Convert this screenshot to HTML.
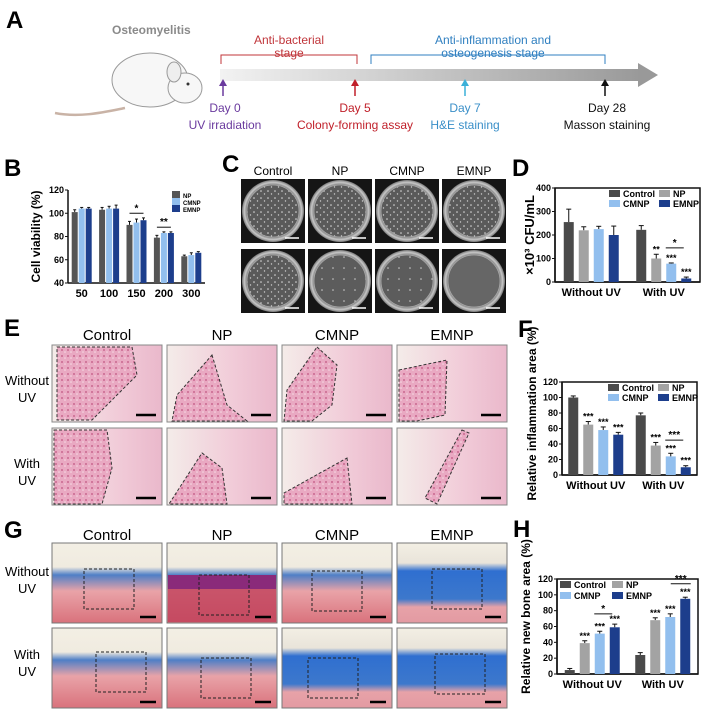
<!DOCTYPE html>
<html><head><meta charset="utf-8">
<style>
html,body{margin:0;padding:0;background:#fff;}
svg{display:block;font-family:"Liberation Sans",Arial,sans-serif;}
.pl{font-weight:bold;font-size:24px;}
.tk{font-size:9px;font-weight:bold;}
.ax{font-size:11px;font-weight:bold;}
</style></head>
<body>
<svg id="fig" width="705" height="716" viewBox="0 0 705 716" xmlns="http://www.w3.org/2000/svg">
<defs>
<linearGradient id="tl" x1="0" x2="1"><stop offset="0" stop-color="#f2f2f2"/><stop offset="1" stop-color="#9a9a9a"/></linearGradient>
<radialGradient id="dish" cx="0.5" cy="0.5" r="0.5"><stop offset="0.8" stop-color="#555"/><stop offset="0.92" stop-color="#c8c8c8"/><stop offset="1" stop-color="#777"/></radialGradient>
<pattern id="col" width="7" height="7" patternUnits="userSpaceOnUse"><rect width="7" height="7" fill="#5a5a5a"/><circle cx="2" cy="2" r="0.8" fill="#ddd"/><circle cx="5.5" cy="5" r="0.7" fill="#ccc"/></pattern>
<pattern id="col2" width="11" height="11" patternUnits="userSpaceOnUse"><rect width="11" height="11" fill="#5c5c5c"/><circle cx="3" cy="4" r="0.8" fill="#ccc"/></pattern>
<pattern id="he" width="6" height="6" patternUnits="userSpaceOnUse"><rect width="6" height="6" fill="#e9a9c2"/><circle cx="2" cy="2" r="1" fill="#c9688f"/><circle cx="5" cy="4" r="0.8" fill="#f6dbe5"/></pattern>
<linearGradient id="pinkbg" x1="0" x2="1"><stop offset="0" stop-color="#f4ece9"/><stop offset="0.6" stop-color="#f1cbd8"/><stop offset="1" stop-color="#eab8cb"/></linearGradient>
<linearGradient id="mas" x1="0" y1="0" x2="0" y2="1"><stop offset="0" stop-color="#f3efe4"/><stop offset="0.3" stop-color="#f0ebe0"/><stop offset="0.4" stop-color="#4f7fc6"/><stop offset="0.6" stop-color="#e9a3a8"/><stop offset="1" stop-color="#d9727c"/></linearGradient>
<linearGradient id="mas2" x1="0" y1="0" x2="0" y2="1"><stop offset="0" stop-color="#f3efe4"/><stop offset="0.25" stop-color="#e9e4da"/><stop offset="0.35" stop-color="#2f6fd0"/><stop offset="0.7" stop-color="#3d78cc"/><stop offset="0.8" stop-color="#e7a2a8"/><stop offset="1" stop-color="#e39aa2"/></linearGradient>
</defs>

<g>
<text class="pl" x="6" y="28">A</text>
<text x="112" y="34" font-size="12" font-weight="bold" fill="#8a8a8a">Osteomyelitis</text>
<g>
<path d="M125,108 C105,112 80,118 55,113" stroke="#c9b3a6" stroke-width="2.5" fill="none"/>
<ellipse cx="150" cy="80" rx="38" ry="27" fill="#f7f7f7" stroke="#9a9a9a"/>
<ellipse cx="185" cy="88" rx="17" ry="15" fill="#f7f7f7" stroke="#9a9a9a"/>
<ellipse cx="174" cy="72" rx="7" ry="10" fill="#eee" stroke="#9a9a9a"/>
<circle cx="188" cy="84" r="1.5" fill="#333"/>
</g>
<rect x="220" y="69" width="418" height="12" fill="url(#tl)"/>
<polygon points="638,63 658,75 638,87" fill="#999"/>
<path d="M221,64 V55 H357 V64" stroke="#c0353a" fill="none"/>
<text x="289" y="44" font-size="12" fill="#c0353a" text-anchor="middle">Anti-bacterial</text>
<text x="289" y="57" font-size="12" fill="#c0353a" text-anchor="middle">stage</text>
<path d="M371,64 V55 H605 V64" stroke="#2f7fc0" fill="none"/>
<text x="493" y="44" font-size="12" fill="#2f7fc0" text-anchor="middle">Anti-inflammation and</text>
<text x="493" y="57" font-size="12" fill="#2f7fc0" text-anchor="middle">osteogenesis stage</text>
<g font-size="12" text-anchor="middle">
<path d="M223,96 V84" stroke="#6a3a9e" stroke-width="1.5"/><polygon points="219,86 223,79 227,86" fill="#6a3a9e"/>
<text x="225" y="112" fill="#6a3a9e">Day 0</text><text x="225" y="129" fill="#6a3a9e">UV irradiation</text>
<path d="M355,96 V84" stroke="#c0202a" stroke-width="1.5"/><polygon points="351,86 355,79 359,86" fill="#c0202a"/>
<text x="355" y="112" fill="#c0202a">Day 5</text><text x="355" y="129" fill="#c0202a">Colony-forming assay</text>
<path d="M465,96 V84" stroke="#3ab0d8" stroke-width="1.5"/><polygon points="461,86 465,79 469,86" fill="#3ab0d8"/>
<text x="465" y="112" fill="#3a8fc8">Day 7</text><text x="465" y="129" fill="#3a8fc8">H&amp;E staining</text>
<path d="M605,96 V84" stroke="#111" stroke-width="1.5"/><polygon points="601,86 605,79 609,86" fill="#111"/>
<text x="607" y="112" fill="#111">Day 28</text><text x="607" y="129" fill="#111">Masson staining</text>
</g>
</g>

<text class="pl" x="4" y="176">B</text>
<text class="pl" x="222" y="172">C</text>
<text class="pl" x="512" y="176">D</text>
<text class="pl" x="4" y="336">E</text>
<text class="pl" x="518" y="337">F</text>
<text class="pl" x="4" y="538">G</text>
<text class="pl" x="513" y="537">H</text>

<g id="gC"></g>
<g id="gE"></g>
<g id="gG"></g>
<g id="gB"></g>
<g id="gD"></g>
<g id="gF"></g>
<g id="gH"></g>
</svg>
<script>
var bCats=['50','100','150','200','300'];
var bTicks=[40,60,80,100,120];
var bNP=[101,103,90,79,63];
var bCMNP=[104,104,92,83,64];
var bEMNP=[104,104,94,83,66];
var bNPe=[2,2,3,2,1];
var bCMNPe=[1,2,3,1,2];
var bEMNPe=[1,3,2,1,1];

var grpCats=['Without UV','With UV'];
var dTicks=[0,100,200,300,400];
var dControl=[255,222];
var dNP=[220,100];
var dCMNP=[225,78];
var dEMNP=[200,15];
var dControlE=[55,18];
var dNPE=[15,18];
var dCMNPE=[12,3];
var dEMNPE=[38,6];
var dStars=[['','','',''],['','**','***','***']];

var pTicks=[0,20,40,60,80,100,120];
var fControl=[100,77];
var fNP=[65,38];
var fCMNP=[58,24];
var fEMNP=[52,10];
var fControlE=[2,3];
var fNPE=[4,4];
var fCMNPE=[4,4];
var fEMNPE=[3,2];
var fStars=[['','***','***','***'],['','***','***','***']];

var hControl=[5,24];
var hNP=[39,68];
var hCMNP=[51,72];
var hEMNP=[59,95];
var hControlE=[2,3];
var hNPE=[3,3];
var hCMNPE=[3,4];
var hEMNPE=[4,2];
var hStars=[['','***','***','***'],['','***','***','***']];

var NS='http://www.w3.org/2000/svg';
function mk(parent,tag,attrs,txt){var e=document.createElementNS(NS,tag);for(var k in attrs)e.setAttribute(k,attrs[k]);if(txt!==undefined)e.textContent=txt;parent.appendChild(e);return e;}

var C_CTRL='#4a4a4a',C_NP='#a3a3a3',C_CM='#92bfee',C_EM='#1d3e8c';

function chart(g,o){
  function Y(v){return o.yb-(v-o.min)/(o.max-o.min)*(o.yb-o.yt);}
  var n=o.cats.length,w=o.x1-o.x0;
  function gc(i){return o.x0+w*(i+0.5)/n;}
  if(o.box){var r=mk(g,'rect',{x:o.x0,y:o.yt,width:w,height:o.yb-o.yt,fill:'none',stroke:'#111','stroke-width':1.5});
    
    }
  var ya=mk(g,'line',{x1:o.x0,y1:o.yt,x2:o.x0,y2:o.yb,stroke:'#111','stroke-width':1.5});
  
  
  var xa=mk(g,'line',{x1:o.x0,y1:o.yb,x2:o.x1,y2:o.yb,stroke:'#111','stroke-width':1.5});
  
  
  o.ticks.forEach(function(t){
    mk(g,'line',{x1:o.x0-3,y1:Y(t),x2:o.x0,y2:Y(t),stroke:'#111'});
    var tl=mk(g,'text',{x:o.x0-4,y:Y(t)+3,'text-anchor':'end','class':'tk','font-size':o.tf||9},t);
    
    
  });
  var ns=o.series.length,step=o.step,bw=o.bw;
  o.cats.forEach(function(c,i){
    var cl=mk(g,'text',{x:gc(i),y:o.yb+14,'text-anchor':'middle','class':'ax','font-size':o.cf||11},c);
    
    
    o.series.forEach(function(s,j){
      var cx=gc(i)+(j-(ns-1)/2)*step,v=s.v[i],e=s.e[i];
      var top=Y(v);
      mk(g,'line',{x1:cx,y1:Y(v+e),x2:cx,y2:top,stroke:'#111'});
      mk(g,'line',{x1:cx-bw/4,y1:Y(v+e),x2:cx+bw/4,y2:Y(v+e),stroke:'#111'});
      var b=mk(g,'rect',{x:cx-bw/2,y:top,width:bw,height:o.yb-top,fill:s.c});
      
      
      if(o.stars&&o.stars[i][j]){
        var st=mk(g,'text',{x:cx,y:Y(v+e)-2,'text-anchor':'middle','font-size':9,'font-weight':'bold'},o.stars[i][j]);
        
        
      }
    });
  });
  var yt=mk(g,'text',{x:0,y:0,transform:'translate('+o.ytx+','+((o.yt+o.yb)/2+(o.yto||0))+') rotate(-90)','text-anchor':'middle','font-size':o.ytf||12,'font-weight':'bold'},o.ytitle);
  
  
  return {Y:Y,gc:gc};
}
function legend(g,items,x,y,cols,dx,dy,fs){
  items.forEach(function(it,k){
    var lx=x+(k%cols)*dx,ly=y+Math.floor(k/cols)*dy;
    var lg=mk(g,'g',{});
    
    
    mk(lg,'rect',{x:lx,y:ly-7,width:fs+2,height:7,fill:it[1]});
    mk(lg,'text',{x:lx+fs+5,y:ly,'font-size':fs,'font-weight':'bold'},it[0]);
  });
}
function bracket(g,x1,x2,y,label){
  mk(g,'line',{x1:x1,y1:y,x2:x2,y2:y,stroke:'#111'});
  mk(g,'text',{x:(x1+x2)/2,y:y-2,'text-anchor':'middle','font-size':10,'font-weight':'bold'},label);
}

var gB=document.getElementById('gB');
var cb=chart(gB,{x0:68,x1:205,yt:190,yb:283,min:40,max:120,ticks:bTicks,cats:bCats,step:7,bw:6,tf:11,cf:10,
 series:[{n:'np',v:bNP,e:bNPe,c:'#555'},{n:'cmnp',v:bCMNP,e:bCMNPe,c:C_CM},{n:'emnp',v:bEMNP,e:bEMNPe,c:C_EM}],
 ytitle:'Cell viability (%)',ytx:40,ytf:12});
legend(gB,[['NP','#555'],['CMNP',C_CM],['EMNP',C_EM]],172,198,1,0,7,6);
bracket(gB,cb.gc(2)-7,cb.gc(2)+7,cb.Y(100),'*');
bracket(gB,cb.gc(3)-7,cb.gc(3)+7,cb.Y(88),'**');

var gD=document.getElementById('gD');
var cd=chart(gD,{x0:555,x1:700,yt:188,yb:282,min:0,max:400,ticks:dTicks,cats:grpCats,step:15,bw:10,box:true,stars:dStars,
 series:[{n:'control',v:dControl,e:dControlE,c:C_CTRL},{n:'np',v:dNP,e:dNPE,c:C_NP},{n:'cmnp',v:dCMNP,e:dCMNPE,c:C_CM},{n:'emnp',v:dEMNP,e:dEMNPE,c:C_EM}],
 ytitle:'\u00d710\u00b3 CFU/mL',ytx:534,ytf:13});
legend(gD,[['Control',C_CTRL],['NP',C_NP],['CMNP',C_CM],['EMNP',C_EM]],609,197,2,50,10,9);
bracket(gD,cd.gc(1)+2,cd.gc(1)+20,cd.Y(145),'*');

var gF=document.getElementById('gF');
var cf=chart(gF,{x0:562,x1:697,yt:382,yb:475,min:0,max:120,ticks:pTicks,cats:grpCats,step:15,bw:10,box:true,stars:fStars,
 series:[{n:'control',v:fControl,e:fControlE,c:C_CTRL},{n:'np',v:fNP,e:fNPE,c:C_NP},{n:'cmnp',v:fCMNP,e:fCMNPE,c:C_CM},{n:'emnp',v:fEMNP,e:fEMNPE,c:C_EM}],
 ytitle:'Relative inflammation area (%)',ytx:536,ytf:12,yto:-15});
legend(gF,[['Control',C_CTRL],['NP',C_NP],['CMNP',C_CM],['EMNP',C_EM]],608,391,2,50,10,9);
bracket(gF,cf.gc(1)+2,cf.gc(1)+20,cf.Y(45),'***');

var gH=document.getElementById('gH');
var ch=chart(gH,{x0:557,x1:698,yt:579,yb:674,min:0,max:120,ticks:pTicks,cats:grpCats,step:15,bw:10,box:true,stars:hStars,
 series:[{n:'control',v:hControl,e:hControlE,c:C_CTRL},{n:'np',v:hNP,e:hNPE,c:C_NP},{n:'cmnp',v:hCMNP,e:hCMNPE,c:C_CM},{n:'emnp',v:hEMNP,e:hEMNPE,c:C_EM}],
 ytitle:'Relative new bone area (%)',ytx:530,ytf:12,yto:-10});
legend(gH,[['Control',C_CTRL],['NP',C_NP],['CMNP',C_CM],['EMNP',C_EM]],560,588,2,52,11,9);
bracket(gH,ch.gc(0)+2,ch.gc(0)+20,ch.Y(76),'*');
bracket(gH,ch.gc(1)+8,ch.gc(1)+28,ch.Y(114),'***');

var grpNames=['Control','NP','CMNP','EMNP'];
var gC=document.getElementById('gC');
grpNames.forEach(function(nm,i){
  var x=241+i*67;
  var h=mk(gC,'text',{x:x+32,y:175,'text-anchor':'middle','font-size':12},nm);
  
  
  [179,249].forEach(function(y,r){
    var p=mk(gC,'g',{});
    
    
    mk(p,'rect',{x:x,y:y,width:64,height:64,fill:'#151515'});
    mk(p,'circle',{cx:x+32,cy:y+32,r:31,fill:'url(#dish)'});
    var dense=(r==0)||(i==0);
    mk(p,'circle',{cx:x+32,cy:y+32,r:26,fill:(r==1&&i==3)?'#666':(dense?'url(#col)':'url(#col2)'),stroke:'#aaa','stroke-width':0.8});
    mk(p,'line',{x1:x+44,y1:y+59,x2:x+58,y2:y+59,stroke:'#fff','stroke-width':1.5});
  });
});

function rowLabels(g,ys){
  [['Without','UV'],['With','UV']].forEach(function(l,r){
    var t1=mk(g,'text',{x:27,y:ys[r],'text-anchor':'middle','font-size':13},l[0]);
    
    
    mk(g,'text',{x:27,y:ys[r]+17,'text-anchor':'middle','font-size':13},l[1]);
  });
}
var gE=document.getElementById('gE');
rowLabels(gE,[385,468]);
grpNames.forEach(function(nm,i){
  var x=52+i*115;
  var h=mk(gE,'text',{x:x+55,y:340,'text-anchor':'middle','font-size':15},nm);
  
  
  [345,428].forEach(function(y,r){
    var p=mk(gE,'g',{});
    
    
    mk(p,'rect',{x:x,y:y,width:110,height:77,fill:'url(#pinkbg)',stroke:'#888'});
    var pts=(i==0)?[[5,2],[80,2],[85,30],[40,75],[5,75]]:(i==1)?[[45,10],[60,60],[80,76],[5,76],[10,50]]:(i==2)?[[35,2],[55,20],[50,60],[30,76],[2,76],[5,45]]:[[2,25],[50,15],[48,70],[20,76],[2,76]];
    if(r==1){pts=(i==0)?[[2,2],[55,2],[60,40],[50,76],[2,76]]:(i==1)?[[35,25],[55,40],[60,76],[2,76]]:(i==2)?[[65,30],[70,76],[2,76],[2,65]]:[[65,2],[72,5],[40,76],[28,70]];}
    mk(p,'polygon',{points:pts.map(function(q){return (x+q[0])+','+(y+q[1]);}).join(' '),fill:'url(#he)',stroke:'#333','stroke-dasharray':'3,2'});
    mk(p,'line',{x1:x+84,y1:y+70,x2:x+104,y2:y+70,stroke:'#000','stroke-width':2.5});
  });
});
var gG=document.getElementById('gG');
rowLabels(gG,[576,659]);
grpNames.forEach(function(nm,i){
  var x=52+i*115;
  var h=mk(gG,'text',{x:x+55,y:540,'text-anchor':'middle','font-size':15},nm);
  
  
  [543,628].forEach(function(y,r){
    var p=mk(gG,'g',{});
    
    
    var fill=(r==1&&i==2)||(i==3)?'url(#mas2)':'url(#mas)';
    mk(p,'rect',{x:x,y:y,width:110,height:80,fill:fill,stroke:'#777'});
    if(i==1&&r==0){mk(p,'rect',{x:x+1,y:y+32,width:108,height:14,fill:'#8a2a7a'});mk(p,'rect',{x:x+1,y:y+46,width:108,height:33,fill:'#c0405a',opacity:0.8});}
    var bx=(r==0)?[[32,26],[32,32],[30,28],[35,26]][i]:[[44,24],[34,30],[26,30],[38,26]][i];
    mk(p,'rect',{x:x+bx[0],y:y+bx[1],width:50,height:40,fill:'none',stroke:'#222','stroke-dasharray':'3,2'});
    mk(p,'line',{x1:x+88,y1:y+74,x2:x+104,y2:y+74,stroke:'#000','stroke-width':2.5});
  });
});
</script>
</body></html>
